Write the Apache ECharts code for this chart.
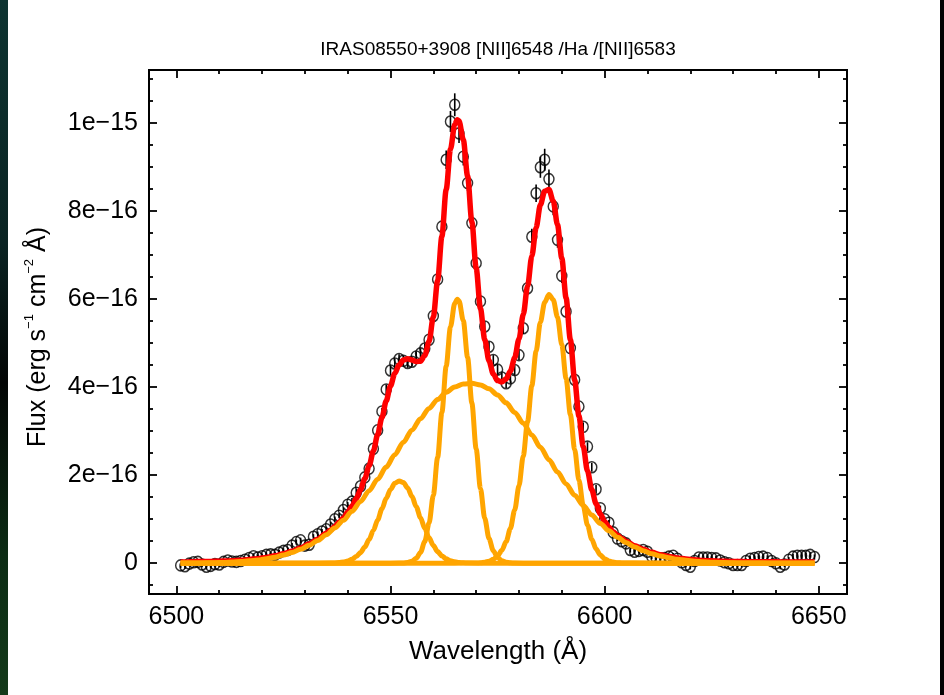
<!DOCTYPE html>
<html><head><meta charset="utf-8">
<script src="https://cdn.jsdelivr.net/npm/echarts@6/dist/echarts.min.js"></script>
<style>html,body{margin:0;padding:0;background:#fff}#c{width:944px;height:695px}</style>
</head><body><div id="c"></div>
<script>
// ---------- text ----------
const titleText = 'IRAS08550+3908 [NII]6548 /Ha /[NII]6583';
const xAxisTitle = 'Wavelength (Å)';
// ---------- axes (flux in units of 1e-16) ----------
const xRange = [6493.6, 6656.6];
const yRange = [-0.70, 11.21];
const xMajorTicks = [6500, 6550, 6600, 6650];
const xTickLabels = ['6500', '6550', '6600', '6650'];
const xMinorTicks = [6510, 6520, 6530, 6540, 6560, 6570, 6580, 6590, 6610, 6620, 6630, 6640];
const yMajorTicks = [0, 2, 4, 6, 8, 10];
const yTickLabels = ['0', '2e\u221216', '4e\u221216', '6e\u221216', '8e\u221216', '1e\u221215'];
const yMinorTicks = [-0.5, 0.5, 1, 1.5, 2.5, 3, 3.5, 4.5, 5, 5.5, 6.5, 7, 7.5, 8.5, 9, 9.5, 10.5, 11];

// ---------- observed spectrum ----------
const obsWave = [
 6501,6502,6503,6504,6505,6506,6507,6508,6509,6510,
 6511,6512,6513,6514,6515,6516,6517,6518,6519,6520,
 6521,6522,6523,6524,6525,6526,6527,6528,6529,6530,
 6531,6532,6533,6534,6535,6536,6537,6538,6539,6540,
 6541,6542,6543,6544,6545,6546,6547,6548,6549,6550,
 6551,6552,6553,6554,6555,6556,6557,6558,6559,6560,
 6561,6562,6563,6564,6565,6566,6567,6568,6569,6570,
 6571,6572,6573,6574,6575,6576,6577,6578,6579,6580,
 6581,6582,6583,6584,6585,6586,6587,6588,6589,6590,
 6591,6592,6593,6594,6595,6596,6597,6598,6599,6600,
 6601,6602,6603,6604,6605,6606,6607,6608,6609,6610,
 6611,6612,6613,6614,6615,6616,6617,6618,6619,6620,
 6621,6622,6623,6624,6625,6626,6627,6628,6629,6630,
 6631,6632,6633,6634,6635,6636,6637,6638,6639,6640,
 6641,6642,6643,6644,6645,6646,6647,6648,6649];
const obsFlux = [
 -0.05,-0.07,-0.01,0.02,0.03,-0.03,-0.08,-0.06,-0.02,-0.03,
 0.03,0.06,0.04,0.03,0.05,0.08,0.12,0.16,0.13,0.16,
 0.19,0.20,0.19,0.24,0.28,0.30,0.40,0.48,0.52,0.40,
 0.42,0.60,0.66,0.72,0.77,0.88,1.00,1.08,1.21,1.33,
 1.40,1.60,1.75,1.95,2.15,2.60,3.02,3.45,3.95,4.38,
 4.54,4.64,4.60,4.55,4.58,4.70,4.77,4.88,5.08,5.62,
 6.45,7.65,9.17,10.04,10.42,9.77,9.24,8.64,7.73,6.82,
 5.95,5.38,4.92,4.62,4.40,4.22,4.09,4.20,4.39,4.73,
 5.34,6.25,7.42,8.41,9.00,9.17,8.73,8.11,7.35,6.53,
 5.72,4.89,4.17,3.56,3.10,2.65,2.18,1.68,1.25,1.00,
 0.92,0.70,0.56,0.50,0.45,0.30,0.26,0.28,0.30,0.26,
 0.15,0.12,0.11,0.12,0.15,0.17,0.10,0.02,-0.04,-0.08,
 0.05,0.13,0.13,0.13,0.12,0.11,0.06,0.02,0.00,-0.04,
 -0.04,-0.04,0.05,0.10,0.12,0.14,0.15,0.12,0.05,0.00,
 -0.08,-0.03,0.08,0.15,0.17,0.17,0.17,0.19,0.14];
const obsErr = [
 0.06,0.06,0.06,0.06,0.06,0.06,0.06,0.06,0.06,0.06,
 0.06,0.06,0.06,0.06,0.06,0.06,0.06,0.06,0.06,0.06,
 0.06,0.06,0.06,0.06,0.06,0.06,0.06,0.06,0.06,0.06,
 0.06,0.06,0.06,0.06,0.06,0.06,0.06,0.06,0.06,0.06,
 0.08,0.08,0.08,0.08,0.08,0.08,0.08,0.08,0.11,0.11,
 0.11,0.11,0.11,0.11,0.11,0.11,0.11,0.11,0.11,0.11,
 0.14,0.17,0.21,0.24,0.26,0.22,0.20,0.18,0.17,0.15,
 0.14,0.12,0.11,0.11,0.11,0.11,0.11,0.11,0.11,0.11,
 0.13,0.15,0.18,0.20,0.24,0.25,0.22,0.20,0.18,0.16,
 0.14,0.12,0.10,0.10,0.10,0.10,0.10,0.10,0.06,0.06,
 0.06,0.06,0.06,0.06,0.06,0.06,0.06,0.06,0.06,0.06,
 0.06,0.06,0.06,0.06,0.06,0.06,0.06,0.06,0.06,0.06,
 0.06,0.06,0.06,0.06,0.06,0.06,0.06,0.06,0.06,0.06,
 0.06,0.06,0.06,0.06,0.06,0.06,0.06,0.06,0.06,0.06,
 0.06,0.06,0.06,0.06,0.06,0.06,0.06,0.06,0.06];

// ---------- total fit (red) ----------
const fitTotal = [
 [6501,0.030],[6503,0.034],[6505,0.036],[6507,0.038],[6509,0.042],[6511,0.048],[6513,0.056],[6515,0.068],
 [6517,0.083],[6519,0.104],[6521,0.131],[6523,0.167],[6525,0.214],[6527,0.272],[6529,0.346],[6531,0.437],
 [6533,0.547],[6535,0.680],[6536,0.754],[6537,0.836],[6538,0.931],[6539,1.035],[6540,1.156],[6541,1.298],
 [6542,1.469],[6543,1.675],[6544,1.923],[6545,2.215],[6546,2.552],[6547,2.924],[6548,3.311],[6549,3.690],
 [6550,4.032],[6551,4.312],[6552,4.508],[6553,4.618],[6554,4.646],[6555,4.619],[6556,4.582],[6557,4.592],
 [6558,4.719],[6559,5.038],[6560,5.602],[6561,6.419],[6562,7.430],[6563,8.494],[6564,9.409],[6565,9.972],
 [6565.6,10.08],[6566,10.05],[6567,9.623],[6568,8.799],[6569,7.758],[6570,6.708],[6571,5.790],[6572,5.086],
 [6573,4.600],[6574,4.302],[6575,4.150],[6576,4.118],[6577,4.189],[6578,4.370],[6579,4.667],[6580,5.098],
 [6581,5.650],[6582,6.295],[6583,6.979],[6584,7.627],[6585,8.145],[6586,8.455],[6587,8.492],[6588,8.231],
 [6589,7.692],[6590,6.931],[6591,6.030],[6592,5.081],[6593,4.164],[6594,3.343],[6595,2.650],[6596,2.094],
 [6597,1.669],[6598,1.352],[6599,1.120],[6600,0.948],[6601,0.819],[6602,0.717],[6603,0.634],[6604,0.564],
 [6605,0.500],[6607,0.398],[6609,0.315],[6611,0.247],[6613,0.194],[6615,0.152],[6617,0.119],[6619,0.095],
 [6621,0.076],[6623,0.063],[6625,0.053],[6627,0.046],[6629,0.041],[6631,0.037],[6633,0.035],[6635,0.033],
 [6637,0.032],[6639,0.031],[6641,0.030],[6645,0.030],[6649,0.030]];

// ---------- fit components (orange) ----------
const compBroad = [
 [6501,0.002],[6503,0.004],[6505,0.006],[6507,0.008],[6509,0.012],[6511,0.018],[6513,0.026],[6515,0.038],
 [6517,0.053],[6519,0.074],[6521,0.101],[6523,0.137],[6525,0.184],[6527,0.242],[6529,0.316],[6531,0.407],
 [6533,0.517],[6535,0.648],[6537,0.801],[6539,0.978],[6541,1.179],[6543,1.403],[6545,1.647],[6547,1.910],
 [6549,2.185],[6551,2.467],[6553,2.749],[6555,3.024],[6557,3.283],[6559,3.519],[6561,3.722],[6563,3.886],
 [6565,4.004],[6567,4.073],[6569,4.089],[6571,4.052],[6573,3.963],[6575,3.825],[6577,3.645],[6579,3.428],
 [6581,3.182],[6583,2.915],[6585,2.636],[6587,2.353],[6589,2.073],[6591,1.803],[6593,1.547],[6595,1.311],
 [6597,1.096],[6599,0.905],[6601,0.737],[6603,0.592],[6605,0.470],[6607,0.368],[6609,0.285],[6611,0.217],
 [6613,0.164],[6615,0.122],[6617,0.089],[6619,0.065],[6621,0.046],[6623,0.033],[6625,0.023],[6627,0.016],
 [6629,0.011],[6631,0.007],[6633,0.005],[6635,0.003],[6637,0.002],[6639,0.001],[6641,0],[6645,0],[6649,0]];
const compNII6548 = [
 [6501,0],[6530,0],[6536,0.003],[6537,0.007],[6538,0.014],[6539,0.027],[6540,0.050],[6541,0.089],
 [6542,0.151],[6543,0.242],[6544,0.370],[6545,0.538],[6546,0.746],[6547,0.984],[6548,1.235],[6549,1.475],
 [6550,1.677],[6551,1.815],[6552,1.870],[6553,1.833],[6554,1.710],[6555,1.519],[6556,1.285],[6557,1.034],
 [6558,0.792],[6559,0.577],[6560,0.401],[6561,0.264],[6562,0.166],[6563,0.099],[6564,0.057],[6565,0.031],
 [6566,0.016],[6567,0.008],[6568,0.003],[6575,0],[6649,0]];
const compHalpha = [
 [6501,0],[6548,0],[6552,0.002],[6553,0.006],[6554,0.018],[6555,0.046],[6556,0.111],[6557,0.245],
 [6558,0.493],[6559,0.912],[6560,1.546],[6561,2.403],[6562,3.425],[6563,4.479],[6564,5.371],[6565,5.907],
 [6565.6,6.000],[6566,5.959],[6567,5.512],[6568,4.677],[6569,3.639],[6570,2.598],[6571,1.700],[6572,1.020],
 [6573,0.562],[6574,0.284],[6575,0.131],[6576,0.056],[6577,0.022],[6578,0.008],[6579,0.002],[6583,0],[6649,0]];
const compNII6583 = [
 [6501,0],[6565,0],[6570,0.004],[6571,0.010],[6572,0.022],[6573,0.045],[6574,0.088],[6575,0.164],
 [6576,0.292],[6577,0.492],[6578,0.791],[6579,1.209],[6580,1.760],[6581,2.438],[6582,3.214],[6583,4.034],
 [6584,4.820],[6585,5.479],[6586,5.930],[6587,6.109],[6588,5.989],[6589,5.589],[6590,4.964],[6591,4.197],
 [6592,3.378],[6593,2.587],[6594,1.886],[6595,1.309],[6596,0.864],[6597,0.543],[6598,0.325],[6599,0.185],
 [6600,0.100],[6601,0.052],[6602,0.025],[6603,0.012],[6604,0.005],[6610,0],[6649,0]];

// ---------- build ----------
const FONT = "'Liberation Sans', Arial, sans-serif";
const obsPoints = obsWave.map((w, i) => [w, obsFlux[i]]);
const obsBars = obsWave.map((w, i) => [w, obsFlux[i], obsErr[i]]);

function xAx(pos, vals, len, labels) {
  return {
    type: 'value', gridIndex: 0, position: pos, min: xRange[0], max: xRange[1],
    axisLine: { show: true, onZero: false, lineStyle: { color: '#000', width: 2 } },
    axisTick: { show: true, inside: true, length: len, customValues: vals, lineStyle: { color: '#000', width: 1.8 } },
    axisLabel: labels ? {
      show: true, customValues: vals, margin: 11, fontSize: 25, color: '#000', fontFamily: FONT,
      formatter: v => xTickLabels[xMajorTicks.indexOf(v)]
    } : { show: false },
    splitLine: { show: false }
  };
}
function yAx(pos, vals, len, labels) {
  return {
    type: 'value', gridIndex: 0, position: pos, min: yRange[0], max: yRange[1],
    axisLine: { show: true, onZero: false, lineStyle: { color: '#000', width: 2 } },
    axisTick: { show: true, inside: true, length: len, customValues: vals, lineStyle: { color: '#000', width: 1.8 } },
    axisLabel: labels ? {
      show: true, customValues: vals, margin: 11, fontSize: 25, color: '#000', fontFamily: FONT,
      formatter: v => yTickLabels[yMajorTicks.indexOf(v)]
    } : { show: false },
    splitLine: { show: false }
  };
}

const chart = echarts.init(document.getElementById('c'), null, { renderer: 'canvas' });
const lineBase = { type: 'line', xAxisIndex: 0, yAxisIndex: 0, showSymbol: false, symbol: 'none',
  smooth: 0.3, smoothMonotone: 'x', silent: true, clip: true };

chart.setOption({
  animation: false,
  backgroundColor: '#ffffff',
  grid: { left: 149, top: 70, width: 698, height: 524, containLabel: false },
  xAxis: [
    xAx('bottom', xMajorTicks, 8, true), xAx('bottom', xMinorTicks, 4, false),
    xAx('top', xMajorTicks, 8, false), xAx('top', xMinorTicks, 4, false)
  ],
  yAxis: [
    yAx('left', yMajorTicks, 8, true), yAx('left', yMinorTicks, 4, false),
    yAx('right', yMajorTicks, 8, false), yAx('right', yMinorTicks, 4, false)
  ],
  graphic: [
    { type: 'rect', shape: { x: 0, y: 0, width: 8, height: 695 }, silent: true,
      style: { fill: { type: 'linear', x: 0, y: 0, x2: 0, y2: 1, colorStops: [
        { offset: 0, color: '#0e3431' }, { offset: 0.35, color: '#0a2322' },
        { offset: 0.55, color: '#030605' }, { offset: 0.8, color: '#0c2c14' }, { offset: 1, color: '#143a1a' }] } } },
    { type: 'rect', shape: { x: 940, y: 0, width: 4, height: 695 }, silent: true, style: { fill: '#020202' } },
    { type: 'text', x: 498, y: 50, silent: true,
      style: { text: titleText, fontSize: 19, fontFamily: FONT, fill: '#000', align: 'center', verticalAlign: 'middle' } },
    { type: 'text', x: 498, y: 652, silent: true,
      style: { text: xAxisTitle, fontSize: 26, fontFamily: FONT, fill: '#000', align: 'center', verticalAlign: 'middle' } },
    { type: 'text', x: 38, y: 337, rotation: Math.PI / 2, silent: true,
      style: { text: '{m|Flux (erg s}{s|\u22121}{m| cm}{s|\u22122}{m| Å)}', align: 'center', verticalAlign: 'middle',
        rich: { m: { fontSize: 25, fontFamily: FONT, fill: '#000', lineHeight: 30 },
                s: { fontSize: 13, fontFamily: FONT, fill: '#000', lineHeight: 14, verticalAlign: 'top' } } } }
  ],
  series: [
    { type: 'custom', xAxisIndex: 0, yAxisIndex: 0, data: obsBars, silent: true, clip: true, z: 2,
      encode: { x: 0, y: 1 },
      renderItem: function (params, api) {
        const x = api.value(0), v = api.value(1), e = api.value(2);
        const p1 = api.coord([x, v - e]), p2 = api.coord([x, v + e]);
        return { type: 'line', shape: { x1: p1[0], y1: p1[1], x2: p2[0], y2: p2[1] },
          style: { stroke: '#000', lineWidth: 1.6 } };
      } },
    { type: 'scatter', xAxisIndex: 0, yAxisIndex: 0, data: obsPoints, symbol: 'circle', symbolSize: [10, 11],
      silent: true, z: 2, itemStyle: { color: 'rgba(0,0,0,0)', borderColor: '#000', borderWidth: 1.5 } },
    Object.assign({}, lineBase, { name: 'fit', data: fitTotal, z: 3, lineStyle: { color: '#ff0000', width: 5.5 } }),
    Object.assign({}, lineBase, { name: 'broad', data: compBroad, z: 4, lineStyle: { color: '#ffa500', width: 5 } }),
    Object.assign({}, lineBase, { name: 'NII6548', data: compNII6548, z: 4, lineStyle: { color: '#ffa500', width: 5 } }),
    Object.assign({}, lineBase, { name: 'Ha', data: compHalpha, z: 4, lineStyle: { color: '#ffa500', width: 5 } }),
    Object.assign({}, lineBase, { name: 'NII6583', data: compNII6583, z: 4, lineStyle: { color: '#ffa500', width: 5 } })
  ]
});
</script></body></html>
